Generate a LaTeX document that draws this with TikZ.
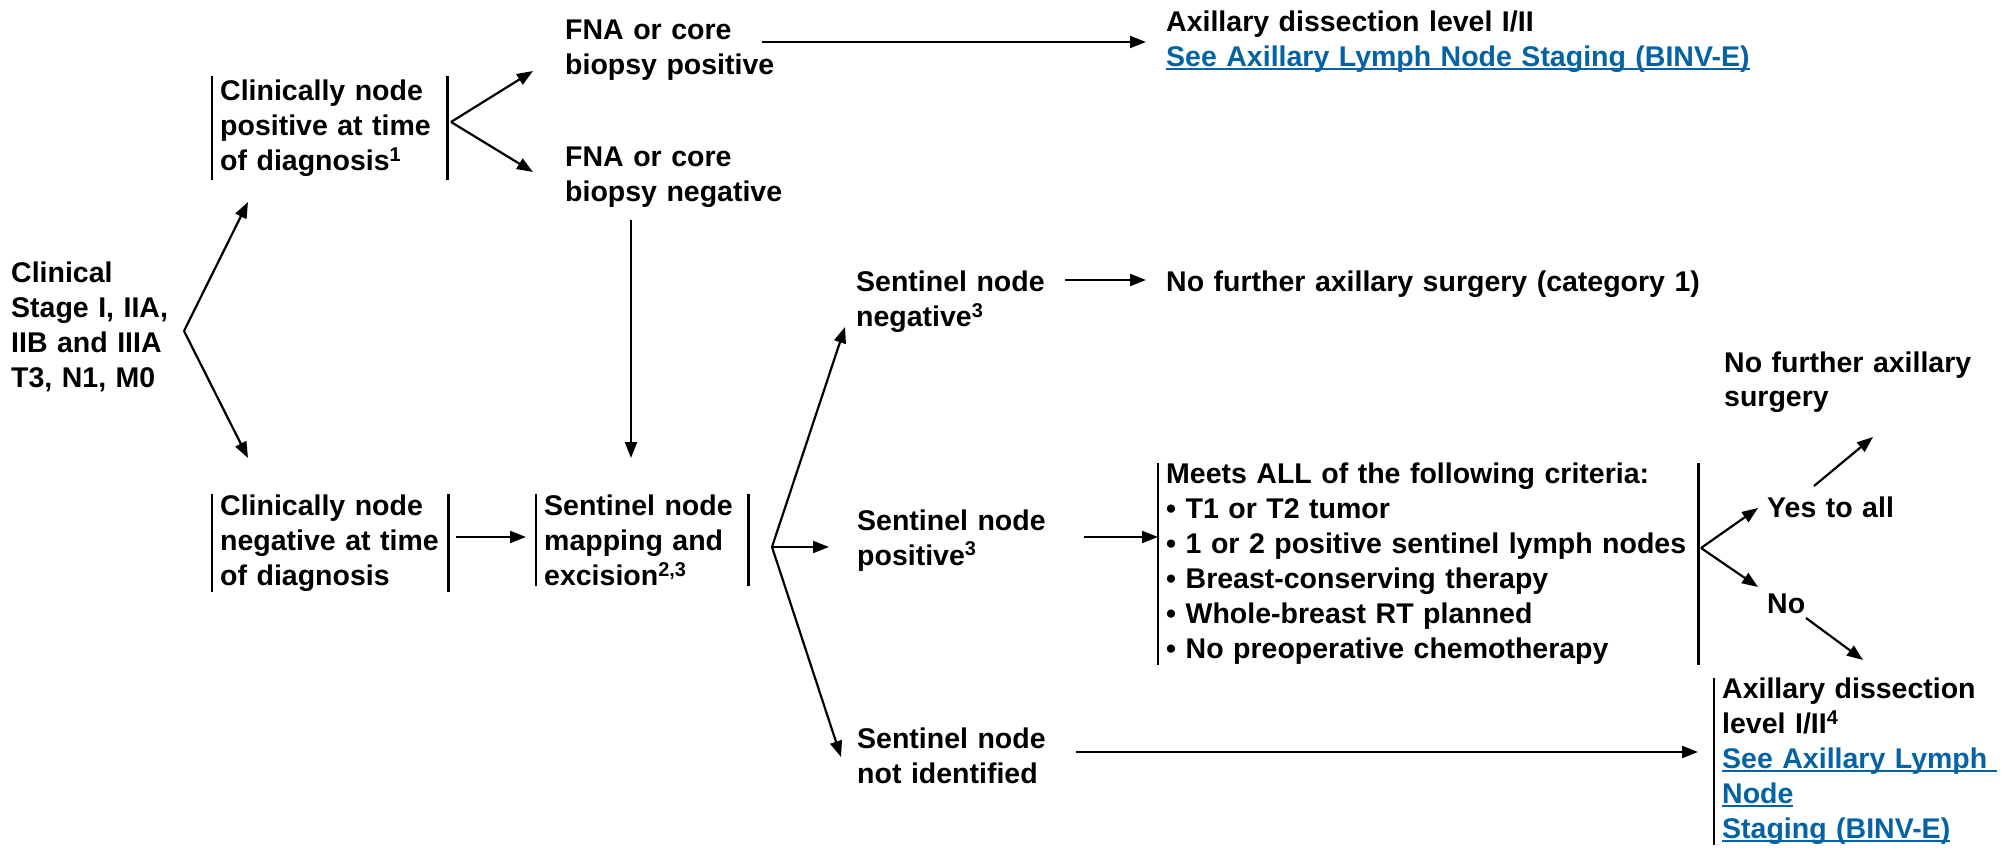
\documentclass[tikz,border=0pt]{standalone}
\usepackage{fontspec}
\setmainfont{Liberation Sans}
\usetikzlibrary{arrows.meta,positioning}
\tikzset{>={Triangle[length=16pt,width=12pt]}}
\definecolor{linkblue}{RGB}{5,99,165}
\newsavebox{\lnkbox}
\newcommand{\lnk}[1]{\textcolor{linkblue}{\sbox{\lnkbox}{#1}\rlap{\rule[-3pt]{\wd\lnkbox}{2pt}}\usebox{\lnkbox}}}

\begin{document}
\begin{tikzpicture}[x=1pt,y=-1pt,
  every node/.style={font=\fontsize{28.5}{35}\selectfont\bfseries,align=left},
  txt/.style={anchor=base west,inner sep=0pt},
  box/.style={anchor=north west,inner xsep=8pt,inner ysep=0pt},
  bar/.style={line width=2.2pt},
  arr/.style={->,line width=2.2pt}]
\useasboundingbox (0,0) rectangle (2011,850);

\node[txt,text width=175pt] (stage) at (11,283) {Clinical\\Stage I, IIA,\\IIB and IIIA\\T3, N1, M0};
\node[box,text width=219pt,minimum height=104pt] (cpos) at (212,76) {Clinically~node\\positive~at~time\\of~diagnosis\textsuperscript{1}};
\node[box,text width=220pt,minimum height=98pt] (cneg) at (212,494) {Clinically~node\\negative~at~time\\of~diagnosis};
\node[txt,text width=240pt] (fnapos) at (565,40) {FNA or core\\biopsy positive};
\node[txt,text width=240pt] (fnaneg) at (565,167) {FNA or core\\biopsy negative};
\node[txt,text width=620pt] (axdis) at (1166,32) {Axillary dissection level I/II\\\lnk{See Axillary Lymph Node Staging (BINV-E)}};
\node[box,text width=196pt,minimum height=92pt] (slnb) at (536,494) {Sentinel~node\\mapping~and\\excision\textsuperscript{2,3}};
\node[txt,text width=210pt] (snneg) at (856,292) {Sentinel node\\negative\textsuperscript{3}};
\node[txt,text width=210pt] (snpos) at (857,530) {Sentinel node\\positive\textsuperscript{3}};
\node[txt,text width=210pt] (snnot) at (857,748) {Sentinel node\\not identified};
\node[txt,text width=600pt] (nofur) at (1166,292) {No further axillary surgery (category 1)};
\node[box,text width=524pt,minimum height=200pt] (crit) at (1158,463) {Meets~ALL~of~the~following~criteria:\\\textbullet{}~T1~or~T2~tumor\\\textbullet{}~1~or~2~positive~sentinel~lymph~nodes\\\textbullet{}~Breast-conserving~therapy\\\textbullet{}~Whole-breast~RT~planned\\\textbullet{}~No~preoperative~chemotherapy};
\node[txt,text width=270pt] (nofur2) at (1724,372) {No further axillary\\surgery};
\node[txt,text width=150pt] (yes) at (1767,517) {Yes to all};
\node[txt,text width=150pt] (no) at (1767,613) {No};
\node[box,text width=280pt,minimum height=162pt] (axdis2) at (1714,678) {Axillary~dissection\\level~I/II\textsuperscript{4}\\\lnk{See Axillary Lymph\ }\\\lnk{Node}\\\lnk{Staging (BINV-E)}};

\draw[bar] (cpos.north west) -- (cpos.south west) (cpos.north east) -- (cpos.south east);
\draw[bar] (cneg.north west) -- (cneg.south west) (cneg.north east) -- (cneg.south east);
\draw[bar] (slnb.north west) -- (slnb.south west) (slnb.north east) -- (slnb.south east);
\draw[bar] (crit.north west) -- (crit.south west) (crit.north east) -- (crit.south east);
\draw[bar] (axdis2.north west) -- (axdis2.south west);

\coordinate (s0) at (184,331);
\coordinate (s1) at (248,202);
\coordinate (s2) at (248,458);
\coordinate (c0) at (451,122);
\coordinate (c1) at (533,71);
\coordinate (c2) at (533,172);
\coordinate (m0) at (772,547);
\coordinate (m1) at (845,327);
\coordinate (m2) at (829,547);
\coordinate (m3) at (841,757);
\coordinate (r0) at (1701,548);
\coordinate (r1) at (1758,508);
\coordinate (r2) at (1758,587);
\coordinate (f0) at (762,42);
\coordinate (g0) at (631,220);
\coordinate (h0) at (456,537);
\coordinate (k0) at (1065,280);
\coordinate (p0) at (1084,537);
\coordinate (q0) at (1076,752);
\coordinate (y0) at (1814,486);
\coordinate (y1) at (1873,437);
\coordinate (n0) at (1806,618);
\coordinate (n1) at (1863,660);

\draw[arr] (s0) -- (s1);
\draw[arr] (s0) -- (s2);
\draw[arr] (c0) -- (c1);
\draw[arr] (c0) -- (c2);
\draw[arr,shorten >=20pt] (f0) -- (f0 -| axdis.west);
\draw[arr,shorten >=36pt] (g0) -- (g0 |- slnb.north);
\draw[arr,shorten >=10pt] (h0) -- (h0 -| slnb.west);
\draw[arr] (m0) -- (m1);
\draw[arr] (m0) -- (m2);
\draw[arr] (m0) -- (m3);
\draw[arr,shorten >=20pt] (k0) -- (k0 -| nofur.west);
\draw[arr] (p0) -- (p0 -| crit.west);
\draw[arr] (r0) -- (r1);
\draw[arr] (r0) -- (r2);
\draw[arr] (y0) -- (y1);
\draw[arr] (n0) -- (n1);
\draw[arr,shorten >=16pt] (q0) -- (q0 -| axdis2.west);
\end{tikzpicture}
\end{document}
